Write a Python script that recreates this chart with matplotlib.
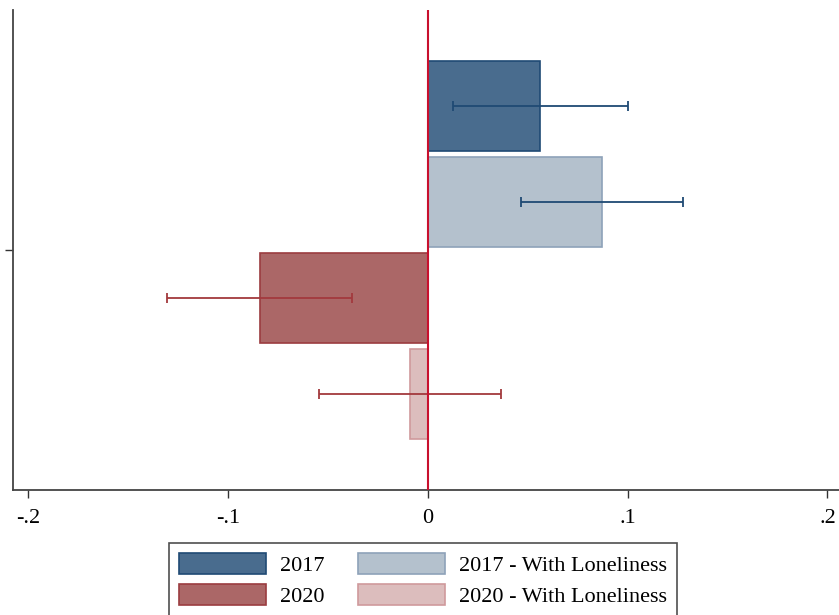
import numpy as np
import matplotlib.pyplot as plt

plt.rcParams['font.family'] = ['Liberation Serif', 'DejaVu Serif']

# estimates and 95% intervals
labels = ["2017", "2017 - With Loneliness", "2020", "2020 - With Loneliness"]
coef = [0.0562, 0.0870, -0.0842, -0.0089]
ci_low = [0.0128, 0.0464, -0.1307, -0.0546]
ci_high = [0.1000, 0.1279, -0.0378, 0.0365]

fills = ["#496c8e", "#b4c1cd", "#ab6767", "#dcbdbd"]
edges = ["#1f4a74", "#8ea2b9", "#9b3c40", "#cf9a9c"]
err_cols = ["#1f4a74", "#1f4a74", "#a3393d", "#a3393d"]

fig = plt.figure(figsize=(8.39, 6.15), dpi=100)
ax = fig.add_axes([13.4 / 839, 1 - 490 / 615, 1 - 13.4 / 839, 480 / 615])

ypos = np.arange(len(coef))
for i in range(len(coef)):
    ax.barh(ypos[i], coef[i], height=0.94, color=fills[i], edgecolor=edges[i],
            linewidth=1.2, label=labels[i], zorder=2)
    lo = coef[i] - ci_low[i]
    hi = ci_high[i] - coef[i]
    ax.errorbar(coef[i], ypos[i], xerr=[[lo], [hi]], fmt="none", ecolor=err_cols[i],
                elinewidth=1.3, capsize=3.6, capthick=1.3, zorder=3)

ax.axvline(0, color="#c8102e", lw=1.5, zorder=4)

ax.set_xlim(-0.2074, 0.2058)
ax.set_ylim(4, -1)
ax.set_xticks([-0.2, -0.1, 0, 0.1, 0.2])
ax.set_xticklabels(["-.2", "-.1", "0", ".1", ".2"], fontsize=16)
ax.set_yticks([1.5])
ax.set_yticklabels([""])
ax.tick_params(axis="both", direction="out", length=6, width=1, color="#333333")
ax.tick_params(axis="x", pad=8)
for s in ["top", "right"]:
    ax.spines[s].set_visible(False)
for s in ["left", "bottom"]:
    ax.spines[s].set_color("#444444")
    ax.spines[s].set_linewidth(1.3)

# legend order: 2017, 2017L in first row
h, l = ax.get_legend_handles_labels()
order = [0, 2, 1, 3]
leg = fig.legend([h[k] for k in order], [l[k] for k in order], ncol=2,
                 loc="upper left", bbox_to_anchor=(169 / 839, 1 - 542.5 / 615),
                 bbox_transform=fig.transFigure, fontsize=16, frameon=True,
                 fancybox=False, edgecolor="#222222", handlelength=3.9,
                 handleheight=1.1, handletextpad=0.65, columnspacing=1.5,
                 labelspacing=0.35, borderpad=0.45, borderaxespad=0)
leg.get_frame().set_linewidth(1.2)

fig.savefig("out.png", dpi=100)
